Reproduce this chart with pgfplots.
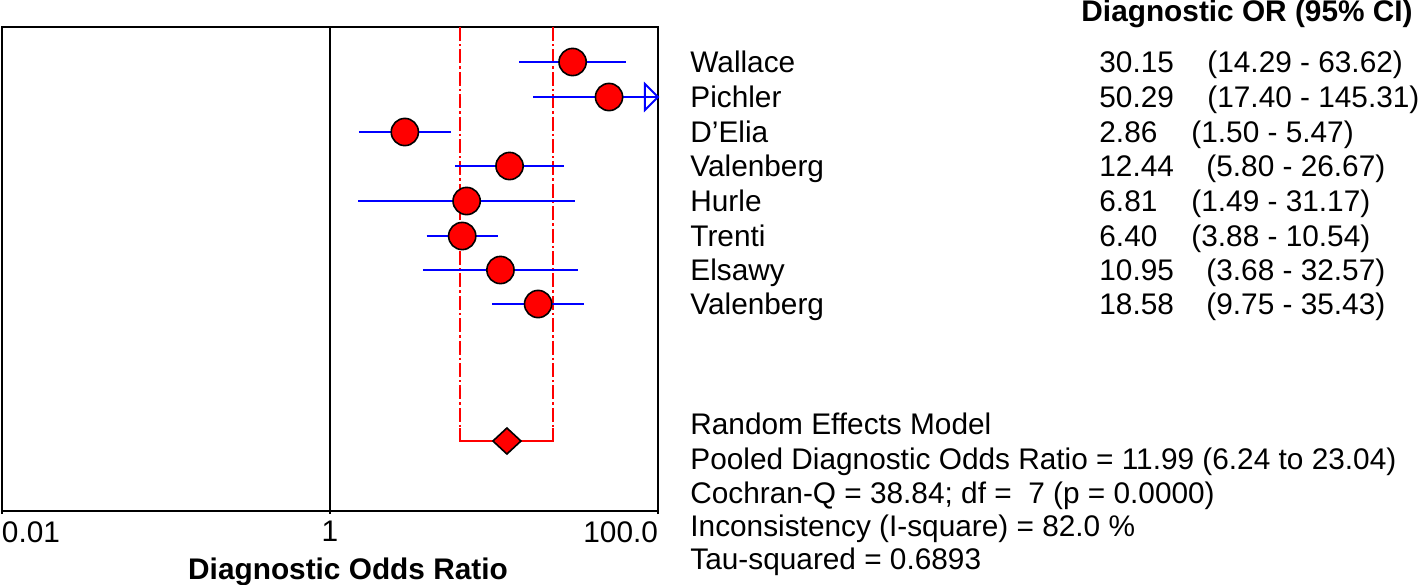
\documentclass[border=0pt]{standalone}
\usepackage{pgfplots}
\usepackage{pgfplotstable}
\pgfplotsset{compat=1.18}
\usepackage{fontspec}
\setmainfont{Liberation Sans}
\definecolor{ptred}{RGB}{255,0,0}
\definecolor{ciblue}{RGB}{0,0,255}
\newcommand\txt{\fontsize{14.9}{17}\selectfont}

% diagnostic OR per study, 95% CI, row position (pixel units, top down)
\pgfplotstableread{
or     lo     hi      y
30.15  14.29  63.62   62
50.29  17.40  100     97
2.86   1.50   5.47    132
12.44  5.80   26.67   166
6.81   1.49   31.17   201
6.40   3.88   10.54   236
10.95  3.68   32.57   270
18.58  9.75   35.43   304
}\studies

\begin{document}
\txt
\begin{tikzpicture}
\useasboundingbox (0,0) rectangle (709pt,-292pt);
\begin{axis}[
    at={(1pt,-13.5pt)}, anchor=north west,
    width=328pt, height=242pt, scale only axis,
    xmode=log, xmin=0.01, xmax=100,
    ymin=27, ymax=511, y dir=reverse,
    xtick={0.01,1,100},
    xticklabels={\makebox[0pt][l]{0.01},1,\makebox[0pt][r]{100.0}},
    ytick=\empty, minor xtick={},
    xminorticks=false,
    tick align=outside, xtick pos=bottom, major tick length=1.5pt,
    axis line style={line width=0.8pt},
    every tick/.style={black, line width=0.8pt},
    xticklabel style={font=\txt, inner sep=0pt, yshift=-3.5pt},
    clip=false,
]
% line of no effect
\addplot[black, line width=0.8pt] coordinates {(1,27) (1,511)};
% pooled CI
\addplot[ptred, line width=1pt, dash pattern=on 7pt off 1.5pt on 1.2pt off 1.5pt] coordinates {(6.24,27) (6.24,428)};
\addplot[ptred, line width=1pt, dash pattern=on 7pt off 1.5pt on 1.2pt off 1.5pt] coordinates {(23.04,27) (23.04,428)};
\addplot[ptred, line width=1pt] coordinates {(6.24,428) (6.24,441) (23.04,441) (23.04,428)};
% study points
\addplot[only marks, mark=*, mark size=6.8pt,
    mark options={fill=ptred, draw=black, line width=0.8pt}]
    table[x=or, y=y] {\studies};
% confidence intervals
\addplot[ciblue, line width=0.9pt] coordinates {(14.29,62) (63.62,62)};
\addplot[ciblue, line width=0.9pt] coordinates {(17.40,97) (100,97)};
\addplot[ciblue, line width=0.9pt] coordinates {(1.50,132) (5.47,132)};
\addplot[ciblue, line width=0.9pt] coordinates {(5.80,166) (26.67,166)};
\addplot[ciblue, line width=0.9pt] coordinates {(1.49,201) (31.17,201)};
\addplot[ciblue, line width=0.9pt] coordinates {(3.88,236) (10.54,236)};
\addplot[ciblue, line width=0.9pt] coordinates {(3.68,270) (32.57,270)};
\addplot[ciblue, line width=0.9pt] coordinates {(9.75,304) (35.43,304)};
% arrow for CI beyond 100
\addplot[ciblue, line width=1pt] coordinates {(83.3,84) (100,97) (83.3,110)} -- cycle;
% pooled estimate 11.99 (diamond)
\addplot[fill=ptred, draw=black, line width=0.8pt] coordinates {(9.85,441) (11.99,428) (14.60,441) (11.99,454)} -- cycle;
\end{axis}

\begin{scope}[x=0.5pt, y=-0.5pt, every node/.style={inner sep=0pt, font=\txt}]
\node[anchor=base east, font=\txt\bfseries] at (1413,21) {Diagnostic OR (95\% CI)};
\node[anchor=base, font=\txt\bfseries] at (348,579) {Diagnostic Odds Ratio};

\node[anchor=base west] at (690,72)  {Wallace};
\node[anchor=base west] at (690,107) {Pichler};
\node[anchor=base west] at (690,142) {D'Elia};
\node[anchor=base west] at (690,176) {Valenberg};
\node[anchor=base west] at (690,211) {Hurle};
\node[anchor=base west] at (690,246) {Trenti};
\node[anchor=base west] at (690,280) {Elsawy};
\node[anchor=base west] at (690,314) {Valenberg};

\node[anchor=base west] at (1099,72)  {30.15};
\node[anchor=base west] at (1099,107) {50.29};
\node[anchor=base west] at (1099,142) {2.86};
\node[anchor=base west] at (1099,176) {12.44};
\node[anchor=base west] at (1099,211) {6.81};
\node[anchor=base west] at (1099,246) {6.40};
\node[anchor=base west] at (1099,280) {10.95};
\node[anchor=base west] at (1099,314) {18.58};

\node[anchor=base west] at (1207,72)  {(14.29 - 63.62)};
\node[anchor=base west] at (1207,107) {(17.40 - 145.31)};
\node[anchor=base west] at (1191,142) {(1.50 - 5.47)};
\node[anchor=base west] at (1206,176) {(5.80 - 26.67)};
\node[anchor=base west] at (1191,211) {(1.49 - 31.17)};
\node[anchor=base west] at (1191,246) {(3.88 - 10.54)};
\node[anchor=base west] at (1206,280) {(3.68 - 32.57)};
\node[anchor=base west] at (1206,314) {(9.75 - 35.43)};

\node[anchor=base west] at (690,434) {Random Effects Model};
\node[anchor=base west] at (690,469) {Pooled Diagnostic Odds Ratio = 11.99 (6.24 to 23.04)};
\node[anchor=base west] at (690,503) {Cochran-Q = 38.84; df =\ \ 7 (p = 0.0000)};
\node[anchor=base west] at (690,536) {Inconsistency (I-square) = 82.0 \%};
\node[anchor=base west] at (690,569) {Tau-squared = 0.6893};
\end{scope}
\end{tikzpicture}
\end{document}
